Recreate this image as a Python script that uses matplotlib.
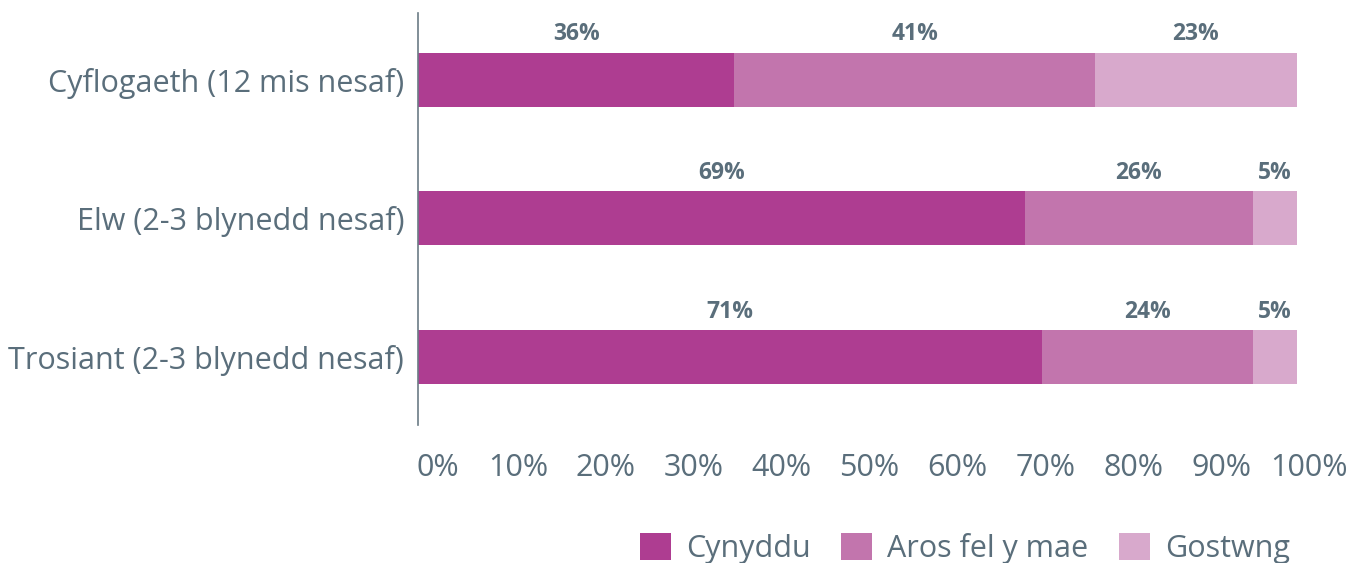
import matplotlib
matplotlib.use("Agg")
import matplotlib.pyplot as plt
from matplotlib.ticker import FixedLocator, FuncFormatter
from matplotlib.transforms import ScaledTranslation

plt.rcParams['font.family'] = ['Open Sans', 'DejaVu Sans']

categories = ["Cyflogaeth (12 mis nesaf)", "Elw (2-3 blynedd nesaf)", "Trosiant (2-3 blynedd nesaf)"]
series_names = ["Cynyddu", "Aros fel y mae", "Gostwng"]
cynyddu = [36, 69, 71]
aros = [41, 26, 24]
gostwng = [23, 5, 5]
colors = ["#ae3d91", "#c275ad", "#d8a9cc"]
text_color = "#5a6e7b"

fig = plt.figure(figsize=(13.65, 5.63), dpi=100)
ax = fig.add_axes([418/1365, 1-425/563, (1297-418)/1365, (425-13)/563])

ypos = list(range(len(categories)))
left = [0]*len(categories)
bar_h = 0.39
for name, vals, c in zip(series_names, [cynyddu, aros, gostwng], colors):
    ax.barh(ypos, vals, left=left, height=bar_h, color=c, label=name)
    for y, l, v in zip(ypos, left, vals):
        ax.text(l + v/2, y - bar_h/2 - 0.045, f"{v}%", ha='center', va='bottom',
                fontsize=16.5, fontweight='bold', color=text_color)
    left = [a + b for a, b in zip(left, vals)]

ax.set_xlim(0, 100)
ax.set_ylim(2.49, -0.48)
ax.set_yticks(ypos)
ax.set_yticklabels(categories)
ax.xaxis.set_major_locator(FixedLocator(range(0, 101, 10)))
ax.xaxis.set_major_formatter(FuncFormatter(lambda v, p: f"{int(v)}%"))
ax.tick_params(axis='both', length=0, labelsize=22, labelcolor=text_color)
ax.tick_params(axis='x', pad=20)
ax.tick_params(axis='y', pad=10)
for i, lab in enumerate(ax.get_xticklabels()):
    dx = 20 if i == 0 else 12
    lab.set_transform(lab.get_transform() + ScaledTranslation(dx/100, 0, fig.dpi_scale_trans))
for s in ['top', 'right', 'bottom']:
    ax.spines[s].set_visible(False)
ax.spines['left'].set_color('#6b7b85')
ax.spines['left'].set_linewidth(1.2)

leg = fig.legend(loc='lower right', bbox_to_anchor=(1302/1365, -0.023), ncol=3, frameon=False,
                 fontsize=22, handlelength=1.0, handleheight=1.0, handletextpad=0.5,
                 columnspacing=1.0, borderaxespad=0.0)
for t in leg.get_texts():
    t.set_color(text_color)

fig.savefig("out.png", dpi=100)
